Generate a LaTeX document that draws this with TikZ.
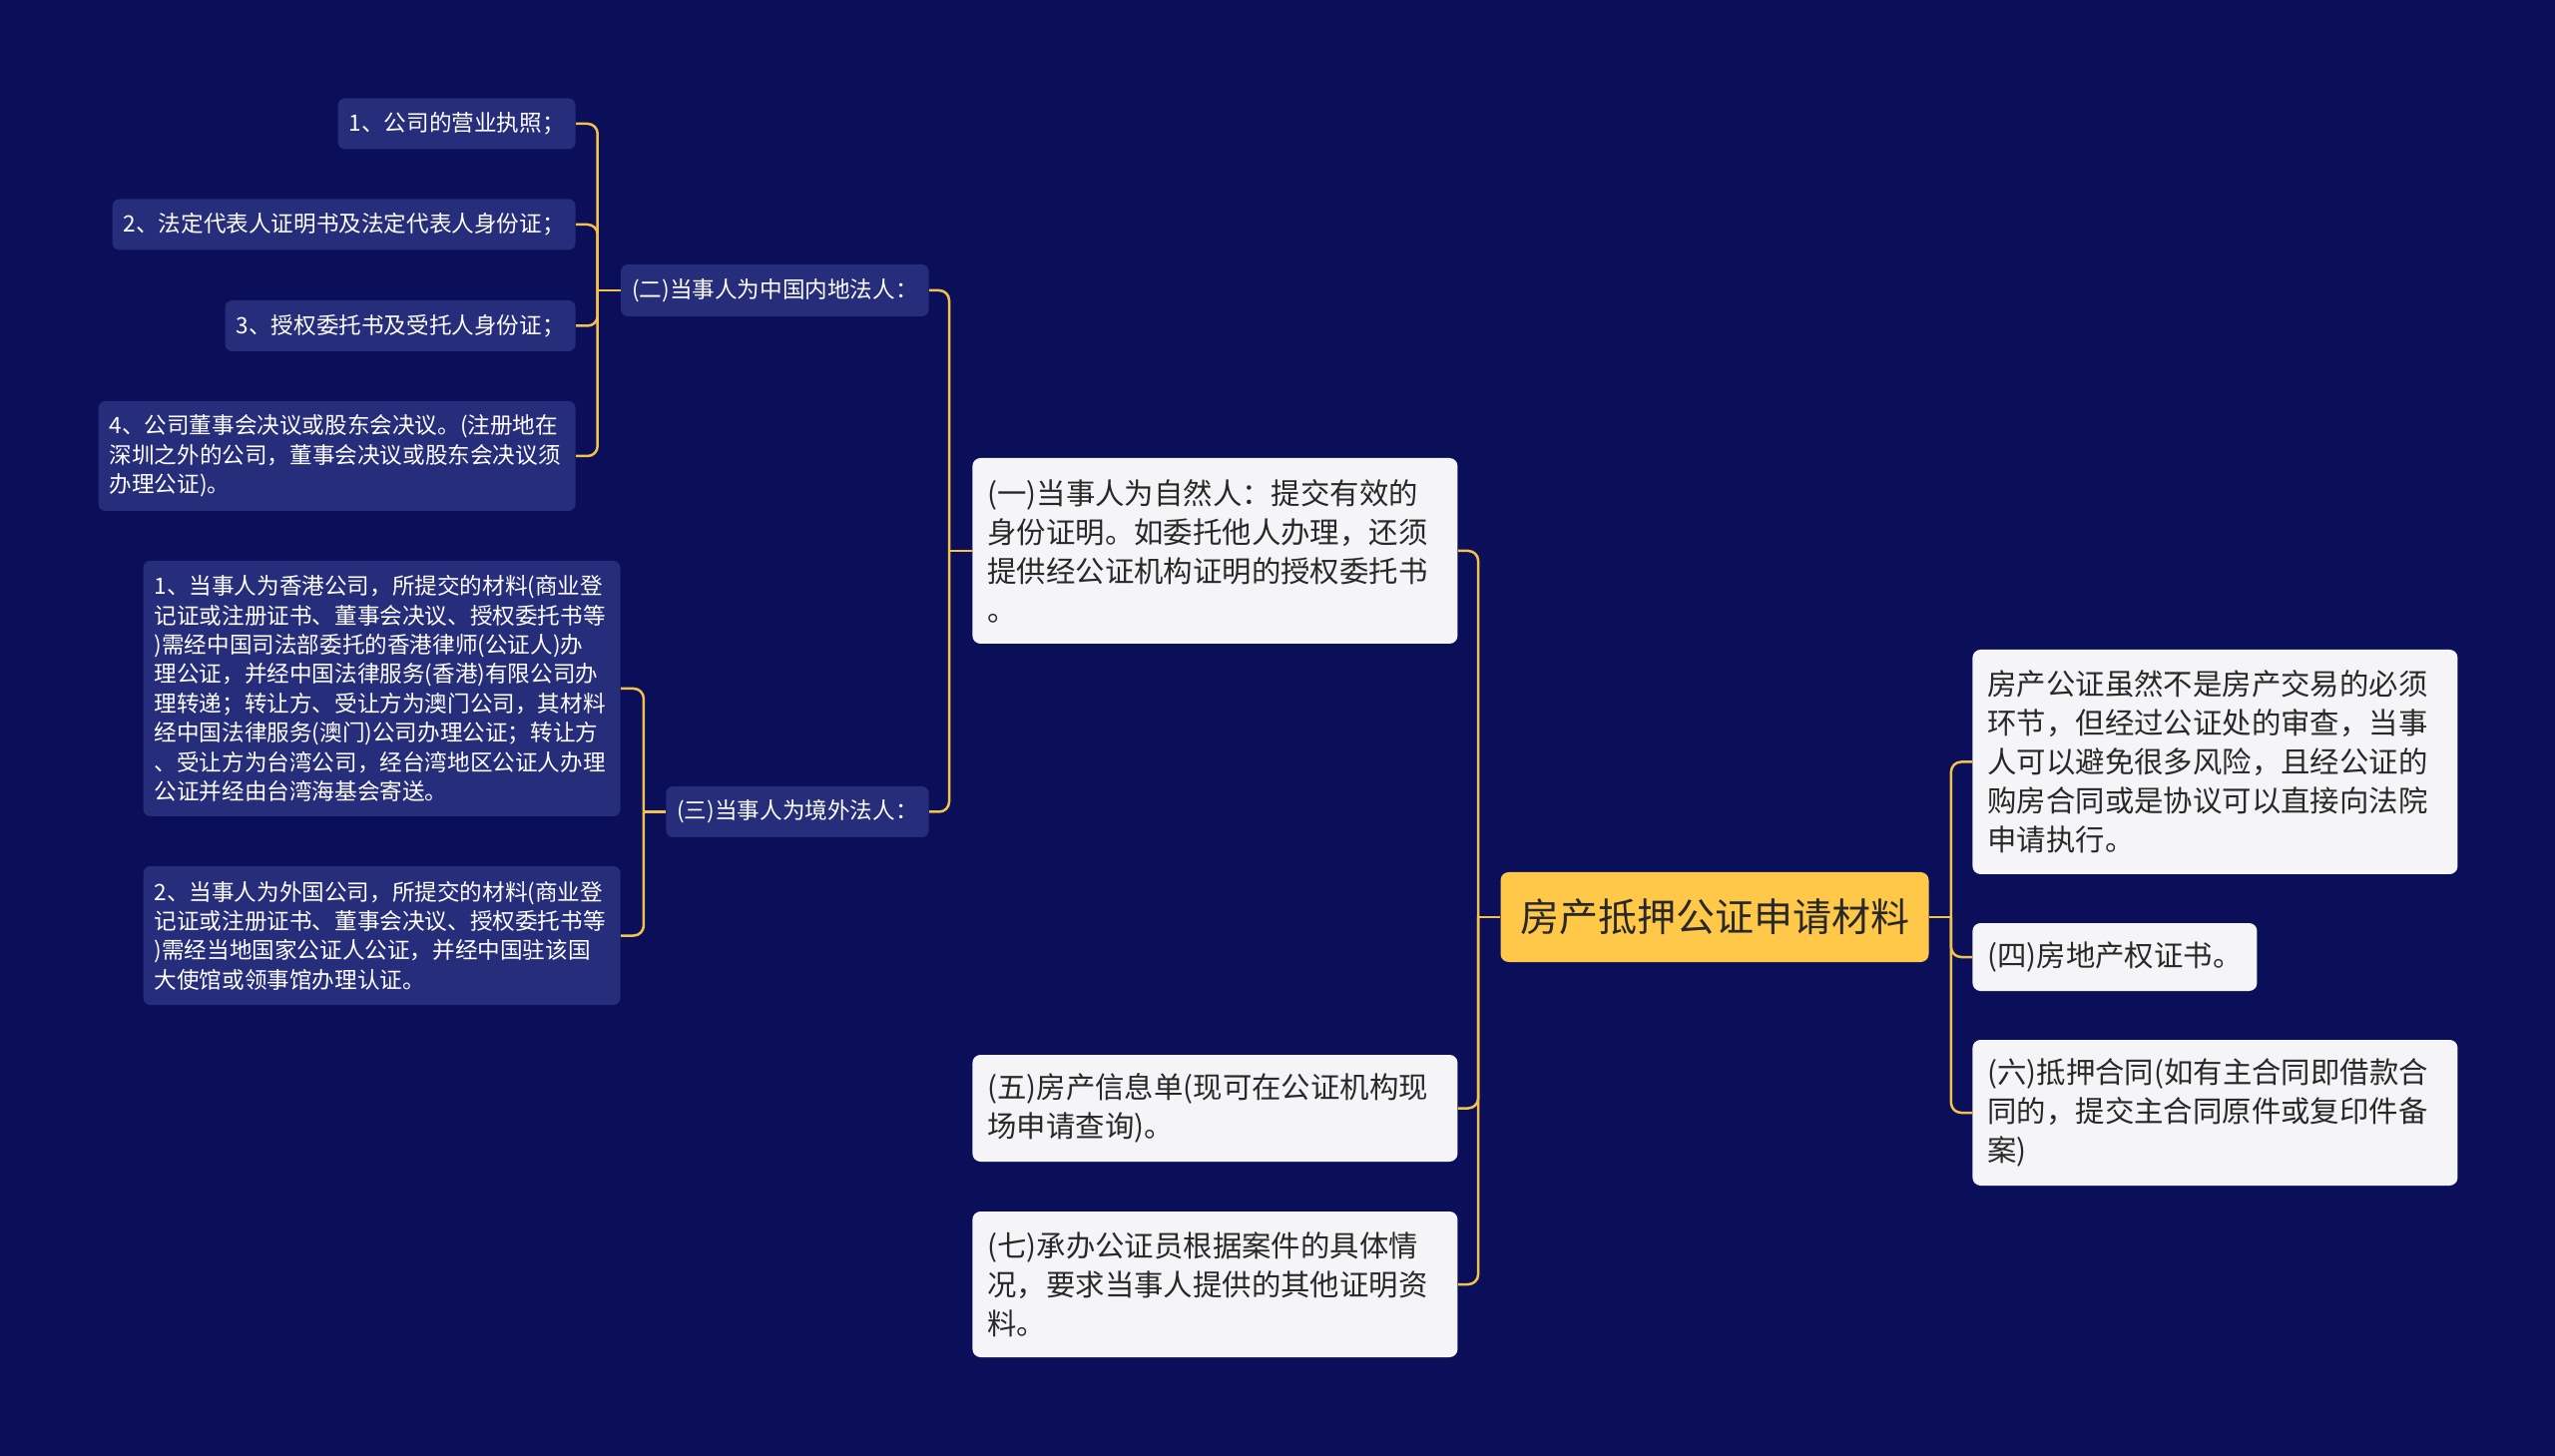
\documentclass[tikz,border=0pt]{standalone}
\usepackage{fontspec}
\setmainfont{Noto Sans CJK SC}
\usepackage{xcolor}
\usepackage{tikz}
\usetikzlibrary{positioning}
\definecolor{corfundo}{RGB}{11,15,90}
\definecolor{corazul}{RGB}{38,45,122}
\definecolor{corbranco}{RGB}{245,245,247}
\definecolor{coramarelo}{RGB}{255,200,72}
\definecolor{corlinha}{RGB}{242,194,75}
\definecolor{cortexto}{RGB}{40,40,40}

\begin{document}
\begin{tikzpicture}[
  x=0.5pt, y=-0.5pt,
  raiz/.style={rectangle, fill=coramarelo, rounded corners=4pt, inner xsep=9.75pt,
               minimum height=45pt, text=cortexto, font=\fontsize{19.5pt}{24pt}\selectfont},
  ramo/.style={rectangle, fill=corbranco, rounded corners=4pt, inner xsep=7.5pt,
               align=left, text=cortexto, font=\fontsize{14.7pt}{19.5pt}\selectfont},
  folha/.style={rectangle, fill=corazul, rounded corners=3.5pt, inner xsep=5.5pt,
                align=left, text=white, font=\fontsize{11.3pt}{14.7pt}\selectfont},
  largo/.style={text width=228pt},
  liga/.style={draw=corlinha, line width=1.25pt, rounded corners=5pt}
]
  \useasboundingbox (0,0) rectangle (2560,1459);
  \fill[corfundo] (0,0) rectangle (2560,1459);

  % centro
  \node[raiz] (raiz) at (1718,919) {房产抵押公证申请材料};

  % lado direito
  \node[ramo, largo, anchor=west, minimum height=112.5pt] (r1) at (1976,763.5)
    {房产公证虽然不是房产交易的必须\\环节，但经过公证处的审查，当事\\人可以避免很多风险，且经公证的\\购房合同或是协议可以直接向法院\\申请执行。};
  \node[ramo, anchor=west, minimum height=34pt] (r2) at (1976,959) {(四)房地产权证书。};
  \node[ramo, largo, anchor=west, minimum height=73pt] (r3) at (1976,1115)
    {(六)抵押合同(如有主合同即借款合\\同的，提交主合同原件或复印件备\\案)};

  % lado esquerdo
  \node[ramo, largo, anchor=west, minimum height=93pt] (l1) at (974,552)
    {(一)当事人为自然人：提交有效的\\身份证明。如委托他人办理，还须\\提供经公证机构证明的授权委托书\\。};
  \node[ramo, largo, anchor=west, minimum height=53.5pt] (l5) at (974,1110.5)
    {(五)房产信息单(现可在公证机构现\\场申请查询)。};
  \node[ramo, largo, anchor=west, minimum height=73pt] (l7) at (974,1287)
    {(七)承办公证员根据案件的具体情\\况，要求当事人提供的其他证明资\\料。};

  \node[folha, anchor=east, minimum height=26pt] (e2) at (931,291) {(二)当事人为中国内地法人：};
  \node[folha, anchor=east, minimum height=25.5pt] (e3) at (931,813.5) {(三)当事人为境外法人：};

  \node[folha, anchor=east, minimum height=25.5pt] (a1) at (577,124) {1、公司的营业执照；};
  \node[folha, anchor=east, minimum height=25.5pt] (a2) at (577,225) {2、法定代表人证明书及法定代表人身份证；};
  \node[folha, anchor=east, minimum height=25.5pt] (a3) at (577,326.5) {3、授权委托书及受托人身份证；};
  \node[folha, largo, anchor=east, minimum height=55pt] (a4) at (577,457)
    {4、公司董事会决议或股东会决议。(注册地在\\深圳之外的公司，董事会决议或股东会决议须\\办理公证)。};

  \node[folha, largo, anchor=east, minimum height=128pt] (b1) at (622,690)
    {1、当事人为香港公司，所提交的材料(商业登\\记证或注册证书、董事会决议、授权委托书等\\)需经中国司法部委托的香港律师(公证人)办\\理公证，并经中国法律服务(香港)有限公司办\\理转递；转让方、受让方为澳门公司，其材料\\经中国法律服务(澳门)公司办理公证；转让方\\、受让方为台湾公司，经台湾地区公证人办理\\公证并经由台湾海基会寄送。};
  \node[folha, largo, anchor=east, minimum height=69.5pt] (b2) at (622,937.5)
    {2、当事人为外国公司，所提交的材料(商业登\\记证或注册证书、董事会决议、授权委托书等\\)需经当地国家公证人公证，并经中国驻该国\\大使馆或领事馆办理认证。};

  % pontos de junção
  \coordinate[right=11pt of raiz] (jdir);
  \coordinate[left=11pt of raiz] (jesq);
  \coordinate[left=11.5pt of l1] (j1);
  \coordinate[left=11.5pt of e2] (j2);
  \coordinate[left=11pt of e3] (j3);

  % ligações
  \draw[liga] (raiz.east) -- (jdir);
  \draw[liga] (jdir) |- (r1.west);
  \draw[liga] (jdir) |- (r2.west);
  \draw[liga] (jdir) |- (r3.west);

  \draw[liga] (raiz.west) -- (jesq);
  \draw[liga] (jesq) |- (l1.east);
  \draw[liga] (jesq) |- (l5.east);
  \draw[liga] (jesq) |- (l7.east);

  \draw[liga] (l1.west) -- (j1);
  \draw[liga] (j1) |- (e2.east);
  \draw[liga] (j1) |- (e3.east);

  \draw[liga] (e2.west) -- (j2);
  \draw[liga] (j2) |- (a1.east);
  \draw[liga] (j2) |- (a2.east);
  \draw[liga] (j2) |- (a3.east);
  \draw[liga] (j2) |- (a4.east);

  \draw[liga] (e3.west) -- (j3);
  \draw[liga] (j3) |- (b1.east);
  \draw[liga] (j3) |- (b2.east);
\end{tikzpicture}
\end{document}
